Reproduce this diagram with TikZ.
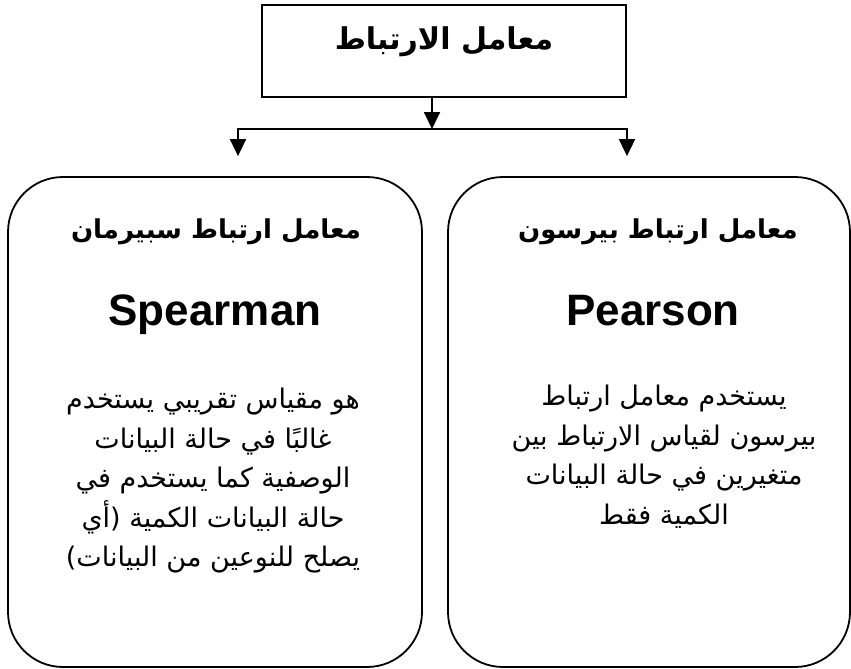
\documentclass[tikz,border=0pt]{standalone}
\usepackage{fontspec}
\setmainfont{Liberation Sans}
\newfontfamily\arabicfont[Script=Arabic]{DejaVu Sans}
\TeXXeTstate=1
\usetikzlibrary{positioning}
\usetikzlibrary{arrows.meta}
\tikzset{
    mybox/.style = {rectangle, draw=black, line width=1.8pt, minimum width=364pt, minimum height=92pt},
    myboxr/.style = {rectangle, rounded corners=55pt, draw=black, line width=1.8pt, minimum height=490pt},
    mytitle/.style = {align=center, inner sep=0pt, font=\arabicfont\bfseries\fontsize{26}{32}\selectfont},
    myname/.style = {inner sep=0pt, font=\bfseries\fontsize{44}{50}\selectfont},
    mytext/.style = {align=center, inner sep=0pt, font=\arabicfont\fontsize{27}{39.5}\selectfont},
    edgen/.style = {-, line width=1.8pt, black},
    edgea/.style = {-{Triangle[width=16pt,length=17pt]}, line width=1.8pt, black},
}
\begin{document}
\begin{tikzpicture}[x=1pt, y=-1pt]
  \useasboundingbox (0,0) rectangle (851,669);
  \node[mybox] (top) at (444,51) {};
  \node[mytitle, anchor=base, font=\arabicfont\bfseries\fontsize{30}{36}\selectfont] (toptitle) at (444,49) {\beginR معامل الارتباط\endR};
  \node[myboxr, minimum width=414pt] (spearman) at (215,422) {};
  \node[myboxr, minimum width=402pt] (pearson) at (649,422) {};
  % split below the top box
  \coordinate (split) at (432,129);
  \coordinate (lsplit) at (238,129);
  \coordinate (rsplit) at (627,129);
  \draw[edgea] (top.south -| split) -- (split);
  \draw[edgea, shorten >=20pt] (split) -- (lsplit) -- (lsplit |- spearman.north);
  \draw[edgea, shorten >=20pt] (split) -- (rsplit) -- (rsplit |- pearson.north);
  % left box
  \node[mytitle, anchor=base] (stitle) at (216,238) {\beginR معامل ارتباط سبيرمان\endR};
  \node[myname, anchor=base] (sname) at (215,325) {Spearman};
  \node[mytext, anchor=north] (stext) at (213,388) {\beginR هو مقياس تقريبي يستخدم\endR\\
    \beginR غالبًا في حالة البيانات\endR\\
    \beginR الوصفية كما يستخدم في\endR\\
    \beginR حالة البيانات الكمية (أي\endR\\
    \beginR يصلح للنوعين من البيانات)\endR};
  % right box
  \node[mytitle, anchor=base] (ptitle) at (658,238) {\beginR معامل ارتباط بيرسون\endR};
  \node[myname, anchor=base] (pname) at (653,325) {Pearson};
  \node[mytext, anchor=north] (ptext) at (664,385) {\beginR يستخدم معامل ارتباط\endR\\
    \beginR بيرسون لقياس الارتباط بين\endR\\
    \beginR متغيرين في حالة البيانات\endR\\
    \beginR الكمية فقط\endR};
\end{tikzpicture}
\end{document}
